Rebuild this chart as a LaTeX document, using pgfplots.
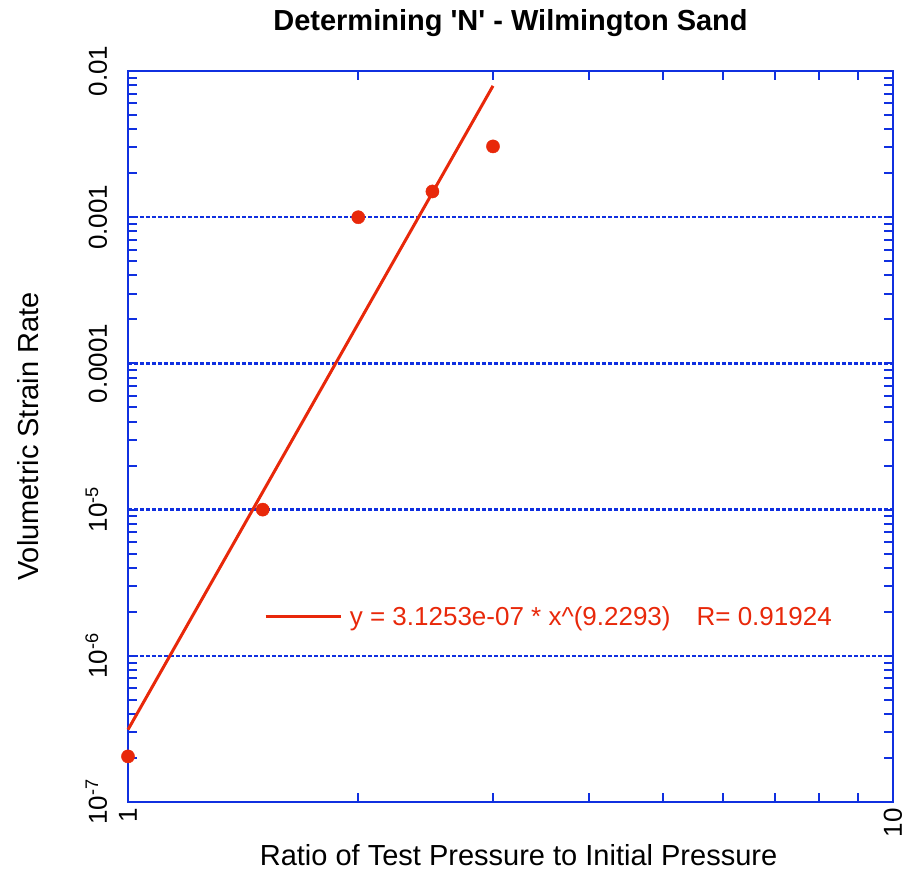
\documentclass[border=0pt]{standalone}
\usepackage{fontspec}
\setmainfont{Liberation Sans}
\usepackage{pgfplots}
\pgfplotsset{compat=1.18}
\definecolor{axblue}{RGB}{16,48,224}
\definecolor{fitred}{RGB}{232,40,10}
\begin{document}
\begin{tikzpicture}
\begin{axis}[
  at={(0,0)}, anchor=south west,
  scale only axis, width=765bp, height=731bp,
  xmode=log, ymode=log,
  xmin=1, xmax=10, ymin=1e-7, ymax=0.01,
  axis line style={axblue, line width=2.8bp},
  every tick/.style={axblue, line width=2bp},
  major tick length=0bp, minor tick length=9bp,
  xtick={1,10}, xticklabels={1,10},
  ytick={1e-7,1e-6,1e-5,1e-4,1e-3,1e-2},
  yticklabels={10\textsuperscript{-7},10\textsuperscript{-6},10\textsuperscript{-5},0.0001,0.001,0.01},
  xticklabel style={rotate=90, anchor=east, inner sep=0pt, xshift=-6bp, font=\fontsize{26bp}{30bp}\selectfont},
  yticklabel style={rotate=90, anchor=base, yshift=21bp, font=\fontsize{26bp}{30bp}\selectfont},
  ymajorgrids,
  major grid style={axblue, line width=2.4bp, dash pattern=on 4bp off 2bp},
  title={\bfseries Determining \textquotesingle N\textquotesingle{} - Wilmington Sand},
  title style={font=\fontsize{29bp}{34bp}\selectfont, at={(axis description cs:0.5,1.0479)}, anchor=base},
  xlabel={Ratio of Test Pressure to Initial Pressure},
  ylabel={Volumetric Strain Rate},
  label style={font=\fontsize{29bp}{34bp}\selectfont},
  xlabel style={at={(axis description cs:0.5105,-0.0862)}, anchor=base},
  ylabel style={at={(axis description cs:-0.117,0.5)}, anchor=base},
  clip=false,
  legend style={draw=none, fill=none, at={(0.178,0.254)}, anchor=west,
    font=\fontsize{26bp}{30bp}\selectfont, text=fitred, inner sep=0pt},
  legend cell align=left,
]
\addplot[fitred, line width=3bp, forget plot] coordinates {(1,3.1253e-7) (3,7.914e-3)};
\addplot[only marks, mark=*, mark size=6.6bp, fitred, mark options={draw=fitred, fill=fitred}, forget plot]
  coordinates {(1,2.05e-7) (1.5,1e-5) (2,1e-3) (2.5,1.5e-3) (3,3.05e-3)};
\addlegendimage{fitred, line width=2.5bp, legend image code/.code={\draw[fitred, line width=2.5bp] (0bp,0bp) -- (75bp,0bp);}}
\addlegendentry{\hspace{6bp}y = 3.1253e-07 * x\^{}(9.2293)\quad R= 0.91924}
\end{axis}
\useasboundingbox (-128bp,-71bp) rectangle (778bp,802bp);
\end{tikzpicture}
\end{document}
